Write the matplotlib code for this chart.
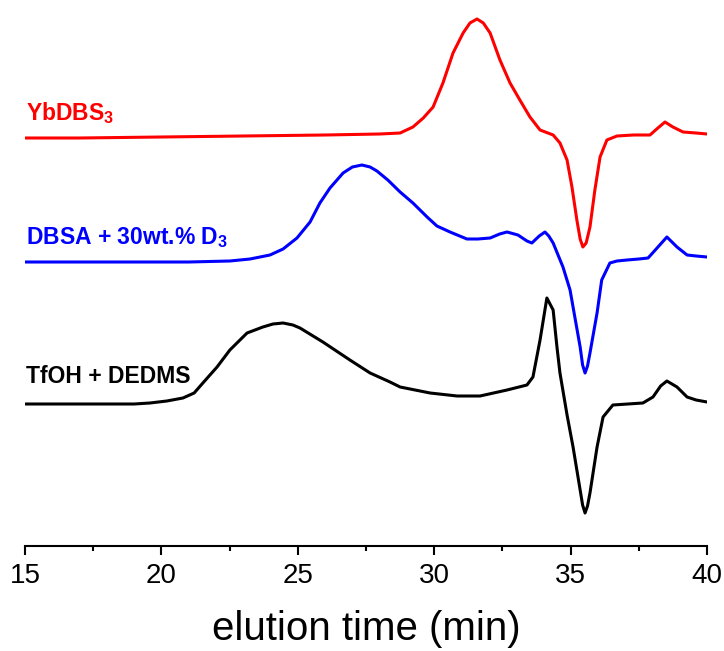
import matplotlib
matplotlib.use("Agg")
import matplotlib.pyplot as plt

plt.rcParams['font.family'] = ['Liberation Sans', 'DejaVu Sans']
plt.rcParams['mathtext.fontset'] = 'custom'
plt.rcParams['mathtext.rm'] = 'Liberation Sans:bold'
plt.rcParams['mathtext.it'] = 'Liberation Sans:bold'

# signal heights (arbitrary units, stacked traces) vs elution time (min)
yb_time = [15.0, 17.0, 20.0, 23.0, 26.0, 28.0, 28.75, 29.22, 29.6, 29.96, 30.32, 30.69,
           31.06, 31.31, 31.57, 31.8, 32.05, 32.41, 32.78, 33.14, 33.51, 33.88, 34.36,
           34.61, 34.87, 35.05, 35.23, 35.35, 35.45, 35.57, 35.71, 35.89, 36.08, 36.33,
           36.7, 37.3, 37.91, 38.2, 38.46, 38.75, 39.12, 39.6, 40.0]
yb_signal = [408, 408, 409, 410, 411, 412, 413, 419, 428, 439, 463, 493,
             513, 523, 527, 523, 513, 486, 463, 446, 429, 416, 411,
             403, 386, 359, 326, 307, 299, 303, 319, 356, 389, 406,
             410, 411, 411, 418, 424, 419, 414, 413, 412]

dbsa_time = [15.0, 17.0, 19.0, 21.0, 22.51, 23.25, 23.98, 24.46, 24.97, 25.45, 25.81,
             26.18, 26.66, 27.0, 27.35, 27.65, 27.9, 28.3, 28.75, 29.22, 29.74, 30.1,
             30.58, 31.2, 31.6, 32.05, 32.4, 32.67, 33.07, 33.4, 33.58, 33.85, 34.06,
             34.2, 34.36, 34.72, 34.98, 35.09, 35.35, 35.44, 35.53, 35.62, 35.71, 35.97,
             36.14, 36.44, 36.7, 37.07, 37.5, 37.84, 38.17, 38.53, 38.9, 39.27, 39.6,
             40.0]
dbsa_signal = [284, 284, 284, 284, 285, 287, 291, 297, 308, 324, 343,
               358, 373, 379, 381, 379, 375, 366, 354, 343, 329, 320,
               314, 307, 307, 308, 312, 314, 311, 305, 303, 310, 314,
               310, 303, 279, 256, 239, 199, 181, 173, 180, 193, 233,
               266, 283, 285, 286, 287, 288, 298, 309, 299, 291, 290,
               289]

tfoh_time = [15.0, 17.0, 19.0, 19.58, 20.2, 20.79, 21.2, 21.52, 22.04, 22.51, 23.14,
             23.72, 24.09, 24.46, 24.82, 25.08, 25.92, 26.91, 27.65, 28.38, 28.75, 29.3,
             29.85, 30.84, 31.68, 32.67, 33.4, 33.62, 33.88, 34.13, 34.36, 34.5, 34.61,
             34.87, 35.09, 35.35, 35.44, 35.53, 35.62, 35.71, 35.97, 36.19, 36.55, 37.1,
             37.65, 38.02, 38.3, 38.53, 38.9, 39.27, 39.6, 40.0]
tfoh_signal = [142, 142, 142, 143, 145, 148, 153, 163, 179, 196, 213,
               219, 222, 223, 221, 218, 204, 186, 173, 164, 159, 156,
               153, 150, 150, 156, 161, 169, 206, 248, 236, 199, 173,
               131, 99, 56, 41, 33, 40, 53, 99, 129, 141, 142,
               143, 149, 160, 165, 159, 149, 146, 144]

labels = ['YbDBS$_3$', 'DBSA + 30wt.% D$_3$', 'TfOH + DEDMS']
colors = ['#ff0000', '#0000ff', '#000000']
label_y = [426, 302, 163]

fig = plt.figure(figsize=(7.24, 6.51), dpi=100)
ax = fig.add_axes([25 / 724, 105 / 651, 682 / 724, 546 / 651])

traces = [(yb_time, yb_signal), (dbsa_time, dbsa_signal), (tfoh_time, tfoh_signal)]
for (t, s), c in zip(traces, colors):
    ax.plot(t, s, color=c, lw=2.2, solid_joinstyle='round', solid_capstyle='round')

for lab, c, y in zip(labels, colors, label_y):
    ax.text(15.05, y, lab, color=c, fontsize=16.5, fontweight='bold',
            ha='left', va='baseline')

ax.set_xlim(15, 40)
ax.set_ylim(0, 546)
ax.set_xticks([15, 20, 25, 30, 35, 40])
ax.set_xticks([17.5, 22.5, 27.5, 32.5, 37.5], minor=True)
ax.tick_params(axis='x', which='major', direction='out', length=6.5, width=1.5,
               labelsize=20, pad=6)
ax.tick_params(axis='x', which='minor', direction='out', length=3.5, width=1.5)
ax.set_yticks([])
for side in ['left', 'right', 'top']:
    ax.spines[side].set_visible(False)
ax.spines['bottom'].set_linewidth(1.5)
ax.set_xlabel('elution time (min)', fontsize=29, labelpad=15)

fig.savefig('out.png', dpi=100)
